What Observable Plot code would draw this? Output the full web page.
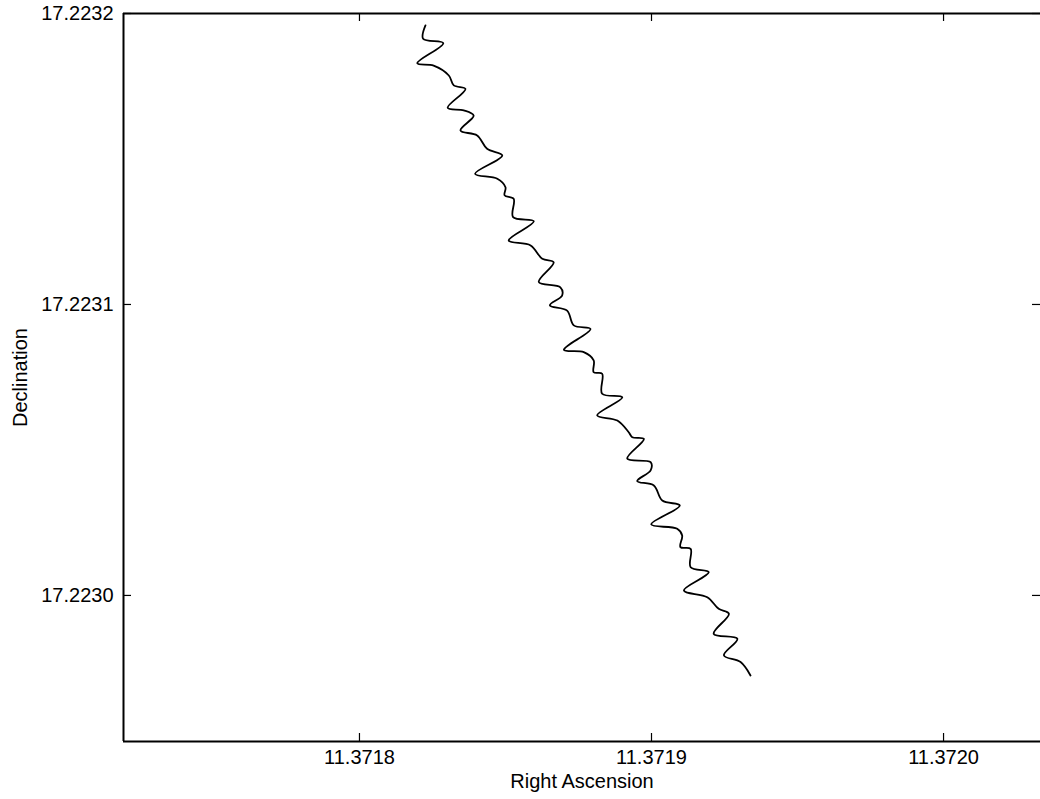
<!DOCTYPE html>
<html><head><meta charset="utf-8">
<script src="https://cdn.jsdelivr.net/npm/d3@7"></script>
<script src="https://cdn.jsdelivr.net/npm/@observablehq/plot@0.6"></script>
<style>body{margin:0;background:#fff;} #chart svg{display:block;}</style>
</head><body><div id="chart"></div>
<script>
// Right Ascension of the astrometric track (parallax + proper motion)
const ra = [
 11.3718226, 11.3718218, 11.3718287, 11.3718198, 11.3718254, 11.3718306, 11.3718323, 11.3718363,
 11.3718302, 11.3718357, 11.3718391, 11.3718346, 11.3718403, 11.3718437, 11.3718489, 11.3718396,
 11.3718472, 11.3718500, 11.3718497, 11.3718528, 11.3718526, 11.3718597, 11.3718511, 11.3718586,
 11.3718626, 11.3718665, 11.3718614, 11.3718688, 11.3718694, 11.3718652, 11.3718711, 11.3718734,
 11.3718791, 11.3718700, 11.3718768, 11.3718802, 11.3718802, 11.3718831, 11.3718831, 11.3718900,
 11.3718814, 11.3718883, 11.3718922, 11.3718934, 11.3718974, 11.3718917, 11.3718997, 11.3718997,
 11.3718951, 11.3719008, 11.3719037, 11.3719097, 11.3718999, 11.3719088, 11.3719105, 11.3719099,
 11.3719134, 11.3719134, 11.3719196, 11.3719111, 11.3719191, 11.3719230, 11.3719265, 11.3719213,
 11.3719294, 11.3719248, 11.3719305, 11.3719339
];
// Declination of the same track
const dec = [
 17.2231959, 17.2231913, 17.2231898, 17.2231829, 17.2231821, 17.2231787, 17.2231753, 17.2231741,
 17.2231676, 17.2231667, 17.2231649, 17.2231598, 17.2231581, 17.2231535, 17.2231512, 17.2231449,
 17.2231432, 17.2231403, 17.2231375, 17.2231363, 17.2231300, 17.2231286, 17.2231220, 17.2231203,
 17.2231157, 17.2231145, 17.2231077, 17.2231059, 17.2231031, 17.2230997, 17.2230979, 17.2230928,
 17.2230916, 17.2230844, 17.2230836, 17.2230808, 17.2230767, 17.2230762, 17.2230693, 17.2230681,
 17.2230619, 17.2230601, 17.2230561, 17.2230544, 17.2230538, 17.2230470, 17.2230458, 17.2230430,
 17.2230393, 17.2230378, 17.2230326, 17.2230309, 17.2230244, 17.2230229, 17.2230206, 17.2230166,
 17.2230160, 17.2230097, 17.2230080, 17.2230017, 17.2229994, 17.2229954, 17.2229937, 17.2229868,
 17.2229851, 17.2229794, 17.2229771, 17.2229725
];
const xTicks = [11.3718, 11.3719, 11.3720];
const yTicks = [17.2230, 17.2231, 17.2232];
const xDomain = [11.3717192, 11.3720332];
const yDomain = [17.2229498, 17.2232];
const xLabel = "Right Ascension";
const yLabel = "Declination";

const track = ra.map((x, i) => ({ra: x, dec: dec[i]}));

const W = 1040, H = 799, mL = 123, mT = 13, mB = 58, mR = 0;
const plotW = W - mL - mR, plotH = H - mT - mB;
const fmt = d3.format(".4f");
const tickLen = 8;

const chart = Plot.plot({
  width: W, height: H,
  marginLeft: mL, marginTop: mT, marginBottom: mB, marginRight: mR,
  style: {fontFamily: "'Liberation Sans', Arial, Helvetica, sans-serif", fontSize: "20px", background: "#fff", color: "#000"},
  x: {domain: xDomain},
  y: {domain: yDomain},
  marks: [
    Plot.axisX({ticks: xTicks, anchor: "bottom", tickSize: 0, tickPadding: 8, tickFormat: fmt,
      label: xLabel, labelAnchor: "center", labelArrow: "none", labelOffset: 46}),
    Plot.axisY({ticks: yTicks, anchor: "left", tickSize: 0, tickPadding: 10, tickFormat: fmt,
      label: yLabel, labelAnchor: "center", labelArrow: "none", labelOffset: 111}),
    // inward tick marks on all four sides
    Plot.tickX(xTicks, {x: d => d, insetTop: plotH - tickLen, stroke: "#000", strokeWidth: 1.2}),
    Plot.tickX(xTicks, {x: d => d, insetBottom: plotH - tickLen, stroke: "#000", strokeWidth: 1.2}),
    Plot.tickY(yTicks, {y: d => d, insetRight: plotW - tickLen, stroke: "#000", strokeWidth: 1.2}),
    Plot.tickY(yTicks, {y: d => d, insetLeft: plotW - tickLen, stroke: "#000", strokeWidth: 1.2}),
    // frame (right side lies beyond the picture)
    Plot.ruleY([yDomain[0], yDomain[1]], {stroke: "#000", strokeWidth: 2}),
    Plot.ruleX([xDomain[0]], {stroke: "#000", strokeWidth: 2}),
    Plot.line(track, {x: "ra", y: "dec", curve: "catmull-rom", stroke: "#000", strokeWidth: 1.8})
  ]
});
document.getElementById("chart").appendChild(chart);
</script>
</body></html>
